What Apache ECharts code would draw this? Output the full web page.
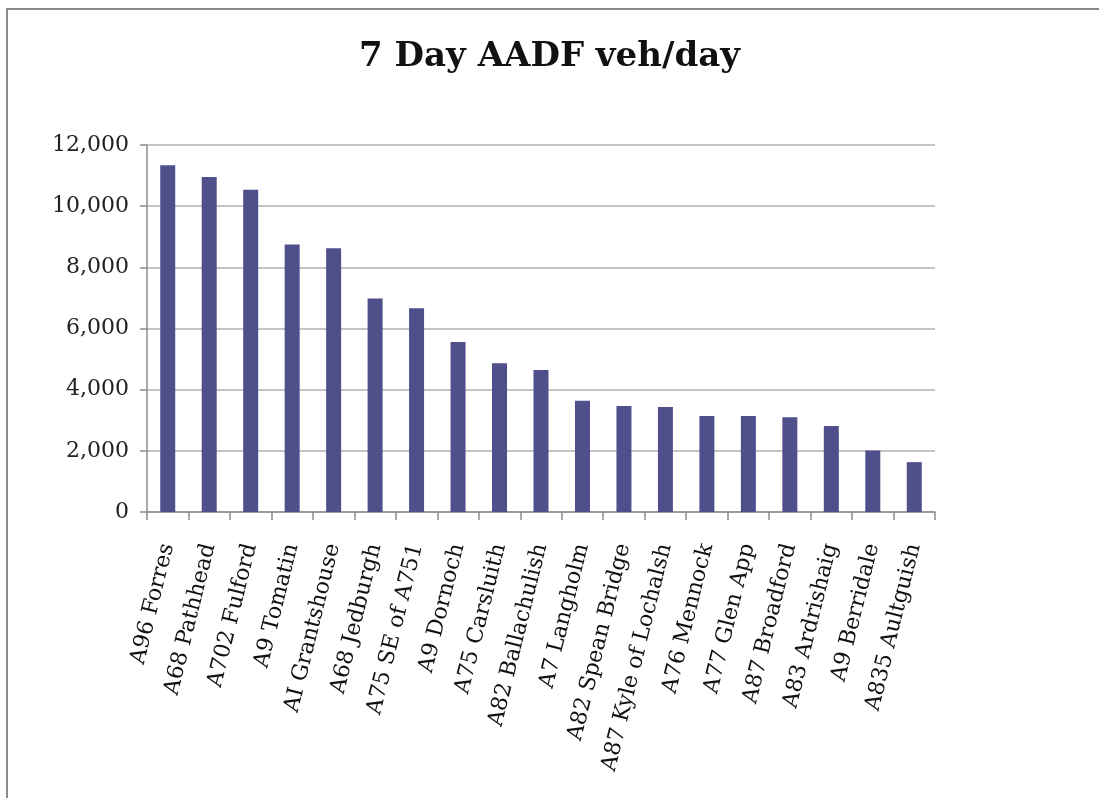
<!DOCTYPE html>
<html>
<head>
<meta charset="utf-8">
<script src="https://cdn.jsdelivr.net/npm/echarts@6/dist/echarts.min.js"></script>
<style>
  html, body { margin: 0; padding: 0; background: #fff; overflow: hidden; width: 1099px; height: 798px; }
  #frame { position: absolute; left: 6px; top: 8px; width: 1300px; height: 900px;
           border-left: 2px solid #8a8a8a; border-top: 2px solid #8a8a8a; box-sizing: border-box; }
  #chart { position: absolute; left: 0; top: 0; width: 1099px; height: 798px; }
</style>
</head>
<body>
<div id="frame"></div>
<div id="chart"></div>
<script>
const titleText = '7 Day AADF veh/day';
const categories = [
  'A96 Forres', 'A68 Pathhead', 'A702 Fulford', 'A9 Tomatin', 'AI Grantshouse',
  'A68 Jedburgh', 'A75 SE of A751', 'A9 Dornoch', 'A75 Carsluith', 'A82 Ballachulish',
  'A7 Langholm', 'A82 Spean Bridge', 'A87 Kyle of Lochalsh', 'A76 Mennock', 'A77 Glen App',
  'A87 Broadford', 'A83 Ardrishaig', 'A9 Berridale', 'A835 Aultguish'
];
const aadf = [
  11340, 10950, 10540, 8750, 8620,
  6980, 6660, 5560, 4860, 4640,
  3640, 3470, 3430, 3140, 3140,
  3100, 2810, 2010, 1630
];
const yMin = 0, yMax = 12000, yStep = 2000;

const serif = 'DejaVu Serif';
const chart = echarts.init(document.getElementById('chart'), null, { renderer: 'canvas' });
chart.setOption({
  animation: false,
  backgroundColor: 'transparent',
  title: {
    text: titleText,
    left: 'center',
    top: 35,
    textStyle: { fontFamily: serif, fontWeight: 'bold', fontSize: 34, color: '#111' }
  },
  grid: { left: 147, right: 164, top: 145, bottom: 286, containLabel: false },
  xAxis: {
    type: 'category',
    data: categories,
    axisLine: { lineStyle: { color: '#8c8c8c', width: 1.5 } },
    axisTick: { show: true, length: 8, lineStyle: { color: '#8c8c8c', width: 1.5 } },
    axisLabel: {
      interval: 0, rotate: 76, margin: 32, padding: [18, 0, 0, 0],
      fontFamily: serif, fontSize: 22, color: '#111'
    }
  },
  yAxis: {
    type: 'value',
    min: yMin, max: yMax, interval: yStep,
    axisLine: { show: true, lineStyle: { color: '#8c8c8c', width: 1.5 } },
    axisTick: { show: true, length: 7, lineStyle: { color: '#8c8c8c', width: 1.5 } },
    splitLine: { lineStyle: { color: '#c4c4c4', width: 2 } },
    axisLabel: {
      margin: 18, fontFamily: serif, fontSize: 22, color: '#222',
      formatter: v => v.toLocaleString('en-US')
    }
  },
  series: [{
    type: 'bar',
    data: aadf,
    barWidth: 15,
    itemStyle: { color: '#4f4f8c' }
  }]
});
</script>
</body>
</html>
